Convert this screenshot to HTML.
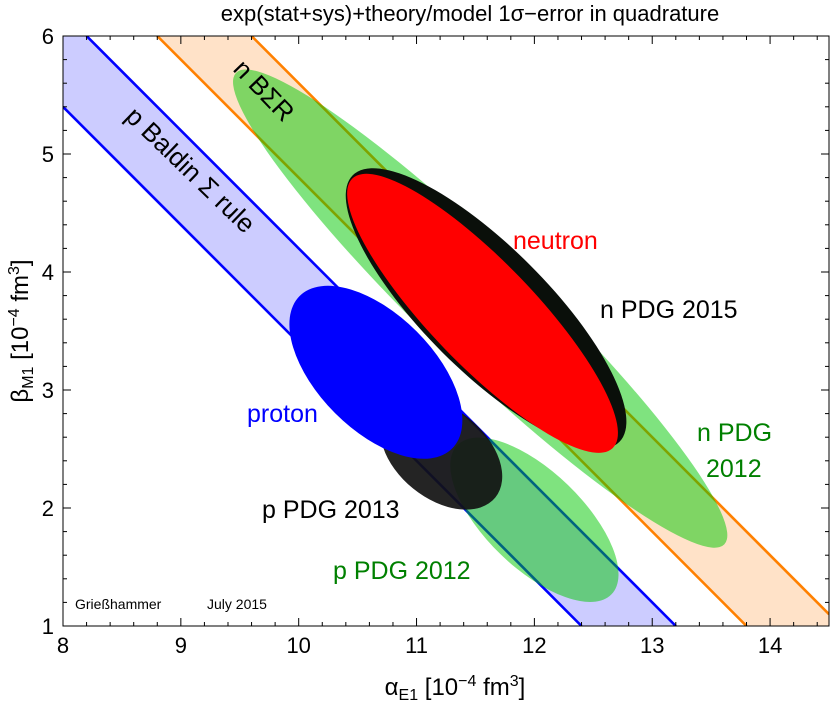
<!DOCTYPE html>
<html><head><meta charset="utf-8"><style>
html,body{margin:0;padding:0;background:#fff;overflow:hidden;width:830px;height:706px;position:relative;}
svg{display:block;position:absolute;left:0;top:0;font-family:"Liberation Sans",sans-serif;}
</style></head><body>
<svg id="chart" width="830" height="706" viewBox="0 0 830 706" xmlns="http://www.w3.org/2000/svg">
<defs><clipPath id="clip"><rect x="63" y="36" width="766" height="590"/></clipPath></defs>
<text x="470" y="21" font-size="22" text-anchor="middle">exp(stat+sys)+theory/model 1σ−error in quadrature</text>
<g id="plot" clip-path="url(#clip)"></g>
<g id="axes"></g>
<g id="labels">
<text transform="translate(124,118) rotate(44)" font-size="26">p Baldin Σ rule</text>
<text transform="translate(232,70) rotate(46)" font-size="26">n BΣR</text>
<text x="513" y="249" font-size="25" fill="#ff0000">neutron</text>
<text x="600" y="318" font-size="25">n PDG 2015</text>
<text x="247" y="422" font-size="25" fill="#0000ff">proton</text>
<text x="697" y="441" font-size="25" fill="#008000">n PDG</text>
<text x="706" y="477" font-size="25" fill="#008000">2012</text>
<text x="262" y="518" font-size="25">p PDG 2013</text>
<text x="333" y="579" font-size="25" fill="#008000">p PDG 2012</text>
<text x="75" y="609" font-size="14">Grießhammer</text>
<text x="207" y="609" font-size="14">July 2015</text>
</g>
<text x="455" y="695" font-size="24" text-anchor="middle">α<tspan font-size="16" dy="5">E1</tspan><tspan dy="-5"> [10</tspan><tspan font-size="16" dy="-9">−4</tspan><tspan dy="9"> fm</tspan><tspan font-size="16" dy="-9">3</tspan><tspan dy="9">]</tspan></text>
<text transform="translate(28,331) rotate(-90)" font-size="24" text-anchor="middle">β<tspan font-size="16" dy="5">M1</tspan><tspan dy="-5"> [10</tspan><tspan font-size="16" dy="-9">−4</tspan><tspan dy="9"> fm</tspan><tspan font-size="16" dy="-9">3</tspan><tspan dy="9">]</tspan></text>
</svg>
<script>
const xTicks=[8,9,10,11,12,13,14];
const yTicks=[1,2,3,4,5,6];
const bandNames=["proton-baldin-band","neutron-baldin-band"];
const bandCenters=[13.8,15.2];
const bandHalfWidths=[0.4,0.4];
const ellipseNames=["n-pdg-2012","p-pdg-2012","n-pdg-2015","p-pdg-2013","neutron","proton"];
const ellipseCx=[11.54,12.0,11.59,11.21,11.56,10.655];
const ellipseCy=[3.69,1.90,3.69,2.46,3.65,3.15];
const ellipseA=[2.88,0.91,1.60,0.59,1.59,0.915];
const ellipseB=[0.47,0.41,0.525,0.38,0.44,0.49];
const ellipseAngle=[44,44,45,39,46,45];

const XMIN=8,XMAX=14.5,YMIN=1,YMAX=6;
const X0=63,X1=829,Y0=626,Y1=36;
const xs=v=>X0+(v-XMIN)/(XMAX-XMIN)*(X1-X0);
const ys=v=>Y0-(v-YMIN)/(YMAX-YMIN)*(Y0-Y1);
const NS="http://www.w3.org/2000/svg";
const plot=document.getElementById('plot'),axes=document.getElementById('axes');
function mk(t,p,a){const e=document.createElementNS(NS,t);for(const k in a)e.setAttribute(k,a[k]);p.appendChild(e);return e;}
// Sutherland-Hodgman clip against data box
function clipPoly(pts){
  const edges=[[p=>p[0]>=XMIN,(a,b)=>{const t=(XMIN-a[0])/(b[0]-a[0]);return [XMIN,a[1]+t*(b[1]-a[1])];}],
    [p=>p[0]<=XMAX,(a,b)=>{const t=(XMAX-a[0])/(b[0]-a[0]);return [XMAX,a[1]+t*(b[1]-a[1])];}],
    [p=>p[1]>=YMIN,(a,b)=>{const t=(YMIN-a[1])/(b[1]-a[1]);return [a[0]+t*(b[0]-a[0]),YMIN];}],
    [p=>p[1]<=YMAX,(a,b)=>{const t=(YMAX-a[1])/(b[1]-a[1]);return [a[0]+t*(b[0]-a[0]),YMAX];}]];
  let out=pts;
  edges.forEach(([inside,isect])=>{
    const inp=out;out=[];
    for(let i=0;i<inp.length;i++){
      const cur=inp[i],prev=inp[(i+inp.length-1)%inp.length];
      if(inside(cur)){if(!inside(prev))out.push(isect(prev,cur));out.push(cur);}
      else if(inside(prev))out.push(isect(prev,cur));
    }
  });
  return out;
}
const bandFill=["rgb(204,204,255)","rgb(255,226,200)"];
const bandLine=["#0000ff","#ff8000"];
bandCenters.forEach((c,i)=>{
  const lo=c-bandHalfWidths[i],hi=c+bandHalfWidths[i];
  const xa=6,xb=16;
  const poly0=[[xa,lo-xa],[xb,lo-xb],[xb,hi-xb],[xa,hi-xa]];
  const pts=clipPoly(poly0).map(p=>xs(p[0])+','+ys(p[1])).join(' ');
  const poly=mk('polygon',plot,{points:pts,fill:bandFill[i]});
  
  
  [lo,hi].forEach(s=>{
    const xA=Math.max(XMIN,s-YMAX),xB=Math.min(XMAX,s-YMIN);
    const l=mk('line',plot,{x1:xs(xA),y1:ys(s-xA),x2:xs(xB),y2:ys(s-xB),stroke:bandLine[i],'stroke-width':2.6});
    
    
  });
});
const eFill=["rgb(0,200,0)","rgb(0,200,0)","#0a0f0a","#111","#ff0000","#0000ff"];
const eOp=[0.5,0.5,1,0.92,1,1];
const sx=(X1-X0)/(XMAX-XMIN);
ellipseNames.forEach((n,i)=>{
  const cx=xs(ellipseCx[i]),cy=ys(ellipseCy[i]);
  const e=mk('ellipse',plot,{cx:cx,cy:cy,rx:ellipseA[i]*sx,ry:ellipseB[i]*sx,fill:eFill[i],'fill-opacity':eOp[i],transform:`rotate(${ellipseAngle[i]} ${cx} ${cy})`});
  
  
});
const fr=mk('rect',axes,{x:X0,y:Y1,width:X1-X0,height:Y0-Y1,fill:'none',stroke:'#000','stroke-width':1});


for(let v=8;v<=14.5001;v+=0.2){
  const maj=Math.abs(v-Math.round(v))<1e-6, L=maj?8:4, x=xs(v);
  mk('line',axes,{x1:x,y1:Y0,x2:x,y2:Y0-L,stroke:'#000','stroke-width':1});
  mk('line',axes,{x1:x,y1:Y1,x2:x,y2:Y1+L,stroke:'#000','stroke-width':1});
}
for(let v=1;v<=6.0001;v+=0.2){
  const maj=Math.abs(v-Math.round(v))<1e-6, L=maj?8:4, y=ys(v);
  mk('line',axes,{x1:X0,y1:y,x2:X0+L,y2:y,stroke:'#000','stroke-width':1});
  mk('line',axes,{x1:X1,y1:y,x2:X1-L,y2:y,stroke:'#000','stroke-width':1});
}
xTicks.forEach(v=>{const t=mk('text',axes,{x:xs(v),y:Y0+27,'font-size':22,'text-anchor':'middle'});t.textContent=v;
 
 });
yTicks.forEach(v=>{const t=mk('text',axes,{x:X0-9,y:ys(v)+8,'font-size':22,'text-anchor':'end'});t.textContent=v;
 
 });
</script>
</body></html>
